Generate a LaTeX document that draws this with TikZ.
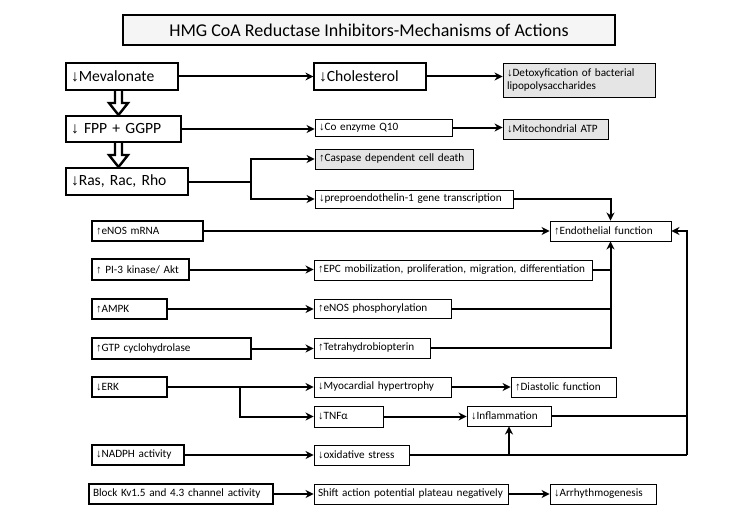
\documentclass[tikz,border=0pt]{standalone}
\usepackage{fontspec}
\setmainfont{Carlito}
\newfontfamily\arrfont{Liberation Sans}
\usetikzlibrary{arrows.meta}
\newcommand\darr{{\arrfont\char"2193}}
\newcommand\uarr{{\arrfont\char"2191}}
\newcommand\smfont{\fontsize{11.2}{13}\selectfont}
\newcommand\bigfont{\fontsize{15.6}{18}\selectfont}
\newcommand\bx[7][]{%
  \pgfmathsetmacro\tw{#5-#3-8}%
  \pgfmathsetmacro\bh{#6-#4}%
  \node[box,#1,text width=\tw pt,minimum height=\bh pt] (#2) at ({(#3+#5)/2},{(#4+#6)/2}) {#7};}
\newcommand\hollow[3]{%
  \draw[line width=2.4pt,fill=white,line join=miter]
    ({#1-3.5},#2) -- ({#1-3.5},{#3-13}) -- ({#1-9.5},{#3-13}) -- (#1,{#3-1})
    -- ({#1+9.5},{#3-13}) -- ({#1+3.5},{#3-13}) -- ({#1+3.5},#2);}
\begin{document}
\begin{tikzpicture}[x=1pt,y=-1pt,
  box/.style={draw,line width=0.9pt,inner xsep=4pt,inner ysep=0pt,align=left,font=\smfont},
  lbox/.style={line width=1.5pt},
  bigbox/.style={line width=1.5pt,font=\bigfont,inner xsep=5pt},
  grey/.style={fill=gray!20},
  conn/.style={line width=2pt,-{Stealth[length=8pt,width=8pt]}},
  plain/.style={line width=2pt}]
\useasboundingbox (0,0) rectangle (731,519);
\fill[white] (0,0) rectangle (731,519);
% title
\node[draw,line width=1.6pt,fill=gray!8,minimum width=492pt,minimum height=30pt,font=\fontsize{18}{21}\selectfont,inner sep=0pt]
  (title) at (369,30) {HMG CoA Reductase Inhibitors-Mechanisms of Actions};
% left column
\bx[bigbox]{mev}{67}{63}{177}{90}{\darr Mevalonate}
\bx[bigbox]{fpp}{67}{116}{180}{142}{\darr{} FPP + GGPP}
\bx[bigbox]{ras}{67}{168}{187}{195}{\darr Ras, Rac, Rho}
\bx[lbox]{enos}{92}{221}{203}{241}{\uarr eNOS mRNA}
\bx[lbox]{pi3}{92}{259}{189}{280}{\uarr{} PI-3 kinase/ Akt}
\bx[lbox]{ampk}{92}{299}{167}{319}{\uarr AMPK}
\bx[lbox]{gtp}{92}{338}{251}{359}{\uarr GTP cyclohydrolase}
\bx[lbox]{erk}{92}{377}{167}{397}{\darr ERK}
\bx[lbox]{nadph}{92}{445}{184}{465}{\darr NADPH activity}
\bx[lbox]{block}{89}{484}{273}{504}{Block Kv1.5 and 4.3 channel activity}
% middle column
\bx[bigbox,line width=1.2pt]{chol}{315}{63}{425}{90}{\darr Cholesterol}
\bx{coq}{315}{119}{452}{136}{\darr Co enzyme Q10}
\bx[grey]{casp}{315}{149}{473}{169}{\uarr Caspase dependent cell death}
\bx{pre}{315}{190}{513}{208}{\darr preproendothelin-1 gene transcription}
\bx{epc}{314}{260}{592}{280}{\uarr EPC mobilization, proliferation, migration, differentiation}
\bx{phos}{314}{299}{451}{318}{\uarr eNOS phosphorylation}
\bx{tetra}{314}{338}{430}{358}{\uarr Tetrahydrobiopterin}
\bx{myo}{314}{377}{451}{397}{\darr Myocardial hypertrophy}
\bx{tnf}{314}{406}{383}{427}{\darr TNFα}
\bx{ox}{314}{445}{409}{465}{\darr oxidative stress}
\bx{shift}{314}{484}{508}{504}{Shift action potential plateau negatively}
% right column
\bx[grey]{detox}{503}{63}{655}{97}{\darr Detoxyfication of bacterial\\lipopolysaccharides}
\bx[grey]{mito}{503}{119}{608}{139}{\darr Mitochondrial ATP}
\bx{endo}{550}{221}{671}{241}{\uarr Endothelial function}
\bx{dia}{511}{377}{616}{397}{\uarr Diastolic function}
\bx{infl}{467}{406}{551}{426}{\darr Inflammation}
\bx{arrh}{550}{484}{656}{504}{\darr Arrhythmogenesis}
% hollow arrows
\hollow{118.5}{91}{116}
\hollow{118.5}{143}{168}
% connectors
\coordinate (rj) at (251,182);
\coordinate (ej) at (240,388);
\coordinate (rc) at (687,455);
\draw[conn] (mev.east) -- (mev.east -| chol.west);
\draw[conn] (chol.east) -- (chol.east -| detox.west);
\draw[conn] (fpp.east) -- (fpp.east -| coq.west);
\draw[conn] (coq.east) -- (coq.east -| mito.west);
\draw[plain] (ras.east) -- (ras.east -| rj);
\draw[conn] (ras.east -| rj) |- (casp.west);
\draw[conn] (ras.east -| rj) |- (pre.west);
\draw[conn] (pre.east) -| (endo.north);
\draw[conn] (enos.east) -- (endo.west);
\draw[conn] (pi3.east) -- (pi3.east -| epc.west);
\draw[conn] (ampk.east) -- (ampk.east -| phos.west);
\draw[conn] (gtp.east) -- (gtp.east -| tetra.west);
\draw[plain] (epc.east) -- (epc.east -| endo.south);
\draw[plain] (phos.east) -- (phos.east -| endo.south);
\draw[conn] (tetra.east) -| (endo.south);
\draw[conn] (erk.east) -- (erk.east -| myo.west);
\draw[conn] (erk.east -| ej) |- (tnf.west);
\draw[conn] (myo.east) -- (myo.east -| dia.west);
\draw[conn] (tnf.east) -- (tnf.east -| infl.west);
\draw[conn] (nadph.east) -- (nadph.east -| ox.west);
\draw[plain] (ox.east) -- (ox.east -| rc);
\draw[conn] (ox.east -| infl.south) -- (infl.south);
\draw[plain] (infl.east) -- (infl.east -| rc);
\draw[conn] (ox.east -| rc) -- (rc |- endo.east) -- (endo.east);
\draw[conn] (block.east) -- (block.east -| shift.west);
\draw[conn] (shift.east) -- (shift.east -| arrh.west);
\end{tikzpicture}
\end{document}
